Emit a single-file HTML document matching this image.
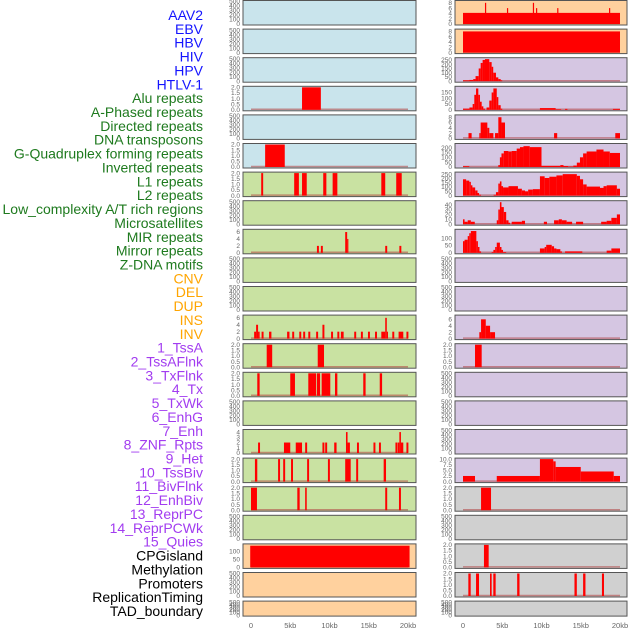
<!DOCTYPE html>
<html><head><meta charset="utf-8">
<style>
html,body{margin:0;padding:0;background:#fff;width:630px;height:630px;overflow:hidden}
svg{display:block;font-family:"Liberation Sans",sans-serif}
</style></head>
<body>
<svg id="chart" width="630" height="630" viewBox="0 0 630 630"></svg>
<script>
const labels=["AAV2","EBV","HBV","HIV","HPV","HTLV-1","Alu repeats","A-Phased repeats","Directed repeats","DNA transposons","G-Quadruplex forming repeats","Inverted repeats","L1 repeats","L2 repeats","Low_complexity A/T rich regions","Microsatellites","MIR repeats","Mirror repeats","Z-DNA motifs","CNV","DEL","DUP","INS","INV","1_TssA","2_TssAFlnk","3_TxFlnk","4_Tx","5_TxWk","6_EnhG","7_Enh","8_ZNF_Rpts","9_Het","10_TssBiv","11_BivFlnk","12_EnhBiv","13_ReprPC","14_ReprPCWk","15_Quies","CPGisland","Methylation","Promoters","ReplicationTiming","TAD_boundary"];
const labelGroups=[6,13,5,15,5];
const groupColors=["#1414ff","#1e7a1e","#ffa500","#a23cf0","#000000"];
const xTicks=[0,5,10,15,20];
const xTickLabels=["0","5kb","10kb","15kb","20kb"];
const E=[0,100,200,300,400,500];
const T2=[0,0.5,1,1.5,2];
const T2L=["0.0","0.5","1.0","1.5","2.0"];
// left column panels
const leftBg=["#c9e4ec","#c9e4ec","#c9e4ec","#c9e4ec","#c9e4ec","#c9e4ec","#c9e2a2","#c9e2a2","#c9e2a2","#c9e2a2","#c9e2a2","#c9e2a2","#c9e2a2","#c9e2a2","#c9e2a2","#c9e2a2","#c9e2a2","#c9e2a2","#c9e2a2","#ffd19e","#ffd19e","#ffd19e"];
const leftMax=[500,500,500,2,500,2,2,500,6.5,500,500,6.5,2,2,500,4.3,2,2,500,140,500,500];
const leftTicks=[E,E,E,T2,E,T2,T2,E,[0,2,4,6],E,E,[0,2,4,6],T2,T2,E,[0,1,2,3,4],T2,T2,E,[0,50,100],E,E];
const leftSegs=[[],[],[],[[6.5,8.9,2]],[],[[1.8,4.3,2]],
[[1.3,1.55,2],[5.5,6.1,2],[6.5,7.1,2],[9.2,9.6,2],[10.4,11,2],[16.6,17.1,2],[18.5,19.2,2]],
[],
[[8.4,8.65,2],[8.9,9.15,2],[12.0,12.25,6],[12.25,12.4,4],[17.1,17.35,2],[18.9,19.15,2]],
[],[],
[[0.4,0.65,2],[0.65,0.9,4],[0.9,1.1,2],[1.35,1.6,2],[2.3,2.6,2],[4.6,4.9,2],[5.25,5.5,2],[6.15,6.4,2],[6.65,6.9,2],[7.3,7.55,2],[8.3,8.55,2],[9.1,9.35,4],[10.2,10.45,2],[11.0,11.25,2],[11.45,11.8,2],[13.15,13.4,2],[14.0,14.25,2],[14.9,15.15,2],[15.8,16.05,2],[16.6,17.1,2],[17.1,17.3,6],[17.3,17.4,2],[18.0,18.25,2],[18.8,19.4,2],[19.8,20.05,2]],
[[2.0,2.7,2],[8.5,9.3,2]],
[[0.8,1.1,2],[5.0,5.6,2],[7.3,8.3,2],[8.4,8.8,2],[9.0,10.1,2],[10.7,11.0,2],[14.3,14.6,2],[16.4,16.7,2]],
[],
[[0.9,1.15,2],[4.2,5.0,2],[5.7,6.5,2],[6.9,7.15,2],[9.1,9.35,2],[9.45,9.7,2],[10.6,10.9,2],[12.1,12.3,4],[12.3,12.6,2],[13.5,13.75,2],[15.6,15.85,2],[16.3,16.55,2],[18.4,18.65,2],[18.7,18.9,2],[18.9,19.1,4],[19.1,19.4,2],[19.8,20.05,2]],
[[0.5,0.8,2],[3.45,3.7,2],[4.1,4.35,2],[5.1,5.35,2],[7.15,7.4,2],[9.8,10.05,2],[12.0,12.7,2],[13.4,13.65,2],[16.9,17.2,2]],
[[0,0.76,2],[5.9,6.2,2],[6.9,7.1,2],[17.1,17.35,2],[18.85,19.1,2]],
[],
[[-0.1,20.2,135]],
[],[]];
// right column panels
const rightBg=["#ffd19e","#ffd19e","#d5c6e2","#d5c6e2","#d5c6e2","#d5c6e2","#d5c6e2","#d5c6e2","#d5c6e2","#d5c6e2","#d5c6e2","#d5c6e2","#d5c6e2","#d5c6e2","#d5c6e2","#d5c6e2","#d5c6e2","#d0d0d0","#d0d0d0","#d0d0d0","#d0d0d0","#d0d0d0"];
const rightMax=[8.5,8.5,265,195,8.5,232,262,46,155,500,500,7,2,500,500,500,10,2,500,2,2,500];
const rightTicks=[[0,2,4,6,8],[0,2,4,6,8],[0,50,100,150,200,250],[0,50,100,150],[0,2,4,6,8],[0,50,100,150,200],[0,50,100,150,200,250],[0,10,20,30,40],[0,50,100],E,E,[0,2,4,6],T2,E,E,E,[0,2.5,5,7.5,10],T2,E,T2,T2,E];
const rightSegs=[
[[0,20,4.2],[2.8,2.95,8],[5.6,5.75,6],[8.9,9.05,8],[9.3,9.45,6],[12.0,12.15,6],[18.6,18.75,6]],
[[0,20,8]],
[[0,0.8,10],[0.8,1.3,15],[1.3,1.6,25],[1.6,2.0,60],[2.0,2.25,150],[2.25,2.5,215],[2.5,2.8,250],[2.8,3.35,260],[3.35,3.65,225],[3.65,3.85,170],[3.85,4.2,100],[4.2,4.5,45],[4.5,4.8,25],[4.8,5.0,10]],
[[0,0.82,10],[0.82,1.23,20],[1.23,1.44,50],[1.44,1.66,130],[1.66,1.95,185],[1.95,2.16,130],[2.16,2.38,70],[2.38,2.59,30],[2.59,2.8,10],[3.0,3.35,20],[3.35,3.65,80],[3.65,3.87,150],[3.87,4.3,185],[4.3,4.5,110],[4.5,4.8,40],[4.8,5.0,10],[9.8,11.8,15],[11.8,12.5,5],[13.0,13.3,8],[19.1,20,8]],
[[0.7,1.1,2],[2.08,2.25,2],[2.25,3.1,6],[3.1,3.35,4],[3.35,3.87,2],[4.08,4.5,2],[4.5,4.9,8],[4.9,5.35,6],[11.6,12.0,2],[19.4,20,2]],
[[0,0.8,8],[4.5,4.7,20],[4.7,4.9,100],[4.9,5.2,140],[5.2,5.78,165],[5.78,6.2,160],[6.2,6.84,165],[6.84,7.26,190],[7.26,7.7,205],[7.7,8.5,215],[8.5,10.0,205],[10.0,12.4,12],[12.4,12.8,20],[12.8,13.4,10],[13.4,14.05,5],[14.05,14.5,15],[14.5,14.9,45],[14.9,15.3,100],[15.3,15.75,140],[15.75,17.0,160],[17.0,17.9,180],[17.9,18.7,160],[18.7,20,145]],
[[0,0.4,190],[0.4,0.8,175],[0.8,1.0,160],[1.0,1.2,120],[1.2,1.55,95],[1.55,1.85,60],[1.85,2.05,30],[2.05,2.3,10],[3.9,4.2,10],[4.2,4.5,40],[4.5,4.7,140],[4.7,4.9,165],[4.9,5.1,110],[5.1,5.8,95],[5.8,7.0,110],[7.0,7.5,80],[7.5,7.9,60],[7.9,8.3,50],[8.3,8.9,70],[8.9,9.8,75],[9.8,10.4,225],[10.4,11.0,205],[11.0,11.9,220],[11.9,12.7,235],[12.7,14.5,250],[14.5,14.9,230],[14.9,15.3,190],[15.3,15.75,130],[15.75,17.45,105],[17.45,17.9,90],[17.9,18.3,110],[18.3,19.6,120],[19.6,20,80]],
[[0,0.2,10],[0.2,0.6,5],[0.6,1.0,8],[1.0,1.5,5],[4.3,4.5,8],[4.5,4.7,30],[4.7,4.9,45],[4.9,5.2,35],[5.2,5.5,25],[5.5,5.8,8],[5.8,6.0,3],[6.2,7.5,5],[7.5,7.9,7],[10.3,10.7,5],[11.6,12.2,8],[12.2,12.6,10],[12.6,13.2,8],[13.2,13.9,5],[14.4,15.3,5],[17.6,18.3,5],[18.3,18.9,7],[18.9,19.6,13],[19.6,20,20]],
[[0,0.2,80],[0.2,0.6,90],[0.6,0.8,115],[0.8,1.0,135],[1.0,1.7,150],[1.7,1.9,80],[1.9,2.1,40],[2.1,2.3,10],[3.65,3.87,5],[3.87,4.1,20],[4.1,4.3,40],[4.3,4.7,70],[4.7,4.9,40],[4.9,5.1,20],[5.1,5.5,5],[9.8,10.4,30],[10.4,10.6,40],[10.6,11.3,55],[11.3,11.6,45],[11.6,11.9,30],[11.9,12.4,25],[12.4,12.6,10],[13.0,15.2,10],[18.3,18.9,15],[18.9,20,30]],
[],[],
[[2.08,2.3,2],[2.3,2.9,6],[2.9,3.45,4],[3.45,4.08,2]],
[[1.53,2.38,2]],
[],[],[],
[[0,1.53,2.5],[4.3,9.8,2.5],[9.8,11.5,10],[11.5,11.8,9],[11.8,15.0,6.5],[15.0,19.2,4.5],[19.2,20,2.5]],
[[2.3,3.57,2]],
[],
[[2.67,3.27,2]],
[[0.68,0.98,2],[1.66,2.04,2],[3.44,3.65,2],[3.86,4.16,2],[6.9,7.2,2],[14.2,14.5,2],[15.3,15.6,2],[17.7,17.96,2]],
[]];

const NS="http://www.w3.org/2000/svg";
const svg=document.getElementById('chart');
function mk(tag,attrs,parent){const e=document.createElementNS(NS,tag);for(const k in attrs)e.setAttribute(k,attrs[k]);(parent||svg).appendChild(e);return e;}
const ROW=28.6;
function rowTop(r){return 0.5+ROW*r;}
function rowH(r){return r===21?15:24.5;}
const cols=[{x0:243,x1:416,z:251,k:7.85,bg:leftBg,max:leftMax,ticks:leftTicks,segs:leftSegs,name:'left'},
            {x0:455,x1:627,z:463,k:7.85,bg:rightBg,max:rightMax,ticks:rightTicks,segs:rightSegs,name:'right'}];

// labels
let li=0;
labelGroups.forEach((n,g)=>{for(let j=0;j<n;j++){
  const t=mk('text',{x:203,y:15+13.86*li+5,'text-anchor':'end','font-size':'14',fill:groupColors[g]});
  t.textContent=labels[li];
  
  
  li++;}});

cols.forEach(c=>{
  const xs=v=>c.z+v*c.k;
  for(let r=0;r<22;r++){
    const top=rowTop(r),h=rowH(r);
    const g=mk('g',{});
    
    
    const bg=mk('rect',{x:c.x0,y:top,width:c.x1-c.x0,height:h,fill:c.bg[r],stroke:'none'},g);
    
    
    const ybot=top+h-1,ytop=top+1;
    const ys=v=>ybot-(v/c.max[r])*(ybot-ytop);
    const segs=c.segs[r];
    if(segs.length){
      const bl=mk('line',{x1:xs(0),x2:xs(20),y1:ybot-0.5,y2:ybot-0.5,stroke:'#b04040','stroke-opacity':0.55,'stroke-width':1.5},g);
      
      
    }
    segs.forEach(s=>{
      const a=Math.max(xs(s[0]),c.x0+1),b=Math.min(xs(s[1]),c.x1-1);
      const y=Math.max(ys(s[2]),ytop);
      const rc=mk('rect',{x:a,y:y,width:Math.max(b-a,1.2),height:ybot-y,fill:'#ff0000'},g);
      
      
    });
    const bd=mk('rect',{x:c.x0,y:top,width:c.x1-c.x0,height:h,fill:'none',stroke:'#555','stroke-width':1},g);
    
    
    c.ticks[r].forEach((tv,i)=>{
      const t=mk('text',{x:c.x0-3,y:ys(tv)+2.2,'text-anchor':'end','font-size':'6.5',fill:'#666'},g);
      const isT2=c.ticks[r]===T2;
      t.textContent=isT2?T2L[i]:(c.ticks[r][1]===2.5?tv.toFixed(1):String(tv));
      
      
    });
  }
  xTicks.forEach((v,i)=>{
    const t=mk('text',{x:xs(v),y:628,'text-anchor':'middle','font-size':'7.5',fill:'#666'});
    t.textContent=xTickLabels[i];
    
    
  });
});
</script>
</body></html>
